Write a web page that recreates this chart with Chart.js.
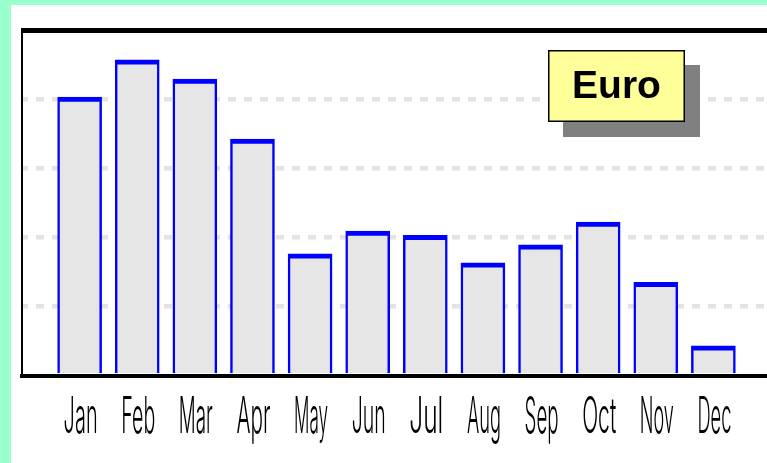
<!DOCTYPE html>
<html><head><meta charset="utf-8">
<script src="https://cdn.jsdelivr.net/npm/chart.js@4"></script>
<style>
html,body{margin:0;padding:0;background:#99ffcc;overflow:hidden;width:767px;height:463px;}
#wrap{position:absolute;left:11px;top:5px;width:760px;height:458px;background:#ffffff;}
canvas{display:block;}
</style></head><body>
<div id="wrap"><canvas id="c" width="760" height="458"></canvas></div>
<script>
const months = ['Jan','Feb','Mar','Apr','May','Jun','Jul','Aug','Sep','Oct','Nov','Dec'];
const euroValues = [40.3, 45.7, 42.9, 34.2, 17.6, 20.9, 20.3, 16.3, 18.9, 22.2, 13.5, 4.3];
const seriesLabel = 'Euro';
const yMin = 0, yMax = 50, yStep = 10;

const framePlugin = {
  id: 'frame',
  afterDraw(chart) {
    const ctx = chart.ctx, ca = chart.chartArea;
    ctx.save();
    // top frame line
    ctx.fillStyle = '#000';
    ctx.fillRect(ca.left - 1, ca.top - 2, chart.width, 5);
    // month labels (narrow tall font)
    const xs = chart.scales.x;
    ctx.fillStyle = '#000';
    ctx.font = '300 50px Inter, "DejaVu Sans Mono"';
    ctx.textAlign = 'center';
    ctx.textBaseline = 'alphabetic';
    months.forEach((m, i) => {
      const x = xs.getPixelForValue(i + 1);
      const w = ctx.measureText(m).width;
      ctx.save();
      ctx.translate(x + 1, ca.bottom + 57.5);
      ctx.scale(34 / w, 1);
      ctx.fillText(m, 0, 0);
      ctx.restore();
    });
    // legend box
    const label = chart.data.datasets[0].label;
    const bx = ca.left + 526, by = ca.top + 20, bw = 137, bh = 72;
    ctx.fillStyle = '#808080';
    ctx.fillRect(bx + 15, by + 15, bw, bh);
    ctx.fillStyle = '#ffff99';
    ctx.fillRect(bx, by, bw, bh);
    ctx.strokeStyle = '#000';
    ctx.lineWidth = 1.5;
    ctx.strokeRect(bx + 0.75, by + 0.75, bw - 1.5, bh - 1.5);
    ctx.fillStyle = '#000';
    ctx.font = 'bold 39px "Liberation Sans", Arial, sans-serif';
    ctx.textAlign = 'center';
    ctx.textBaseline = 'middle';
    ctx.fillText(label, bx + bw / 2, by + bh / 2 + 1);
    ctx.restore();
  }
};

new Chart(document.getElementById('c'), {
  type: 'bar',
  data: {
    datasets: [{
      label: seriesLabel,
      data: months.map((m, i) => ({ x: i + 1, y: euroValues[i] })),
      backgroundColor: '#e6e6e6',
      borderColor: '#0000ff',
      borderWidth: { top: 5, left: 2.5, right: 2.5, bottom: 0 },
      borderSkipped: false,
      barThickness: 44
    }]
  },
  options: {
    responsive: false,
    animation: false,
    devicePixelRatio: 1,
    layout: { padding: { left: 11, top: 25, right: 0, bottom: 0 } },
    plugins: { legend: { display: false }, tooltip: { enabled: false } },
    scales: {
      x: {
        type: 'linear', min: 0, max: 13, offset: false,
        grid: { display: false },
        ticks: { display: false },
        border: { display: true, color: '#000', width: 4 },
        afterFit(s) { s.height = 87.5; }
      },
      y: {
        min: yMin, max: yMax,
        ticks: { display: false, stepSize: yStep },
        grid: {
          color: (c) => (c.tick && c.tick.value > yMin && c.tick.value < yMax) ? '#e3e3e3' : 'rgba(0,0,0,0)',
          lineWidth: 4.5,
          drawTicks: false
        },
        border: { display: true, color: '#000', width: 2, dash: [8, 8], dashOffset: 3 },
        afterFit(s) { s.width = 0; }
      }
    }
  },
  plugins: [framePlugin]
});
</script>
</body></html>
